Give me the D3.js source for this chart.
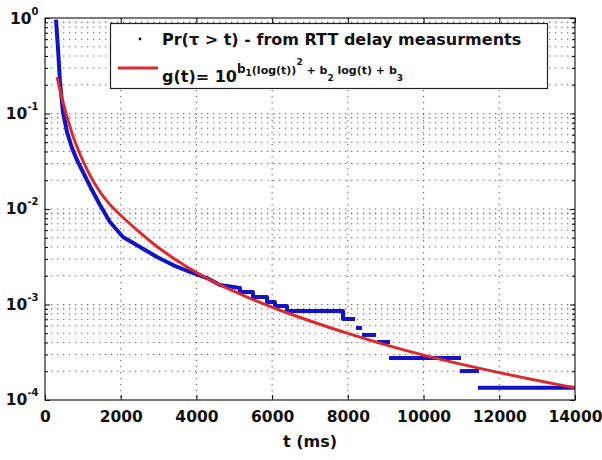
<!DOCTYPE html>
<html><head><meta charset="utf-8">
<script src="https://cdn.jsdelivr.net/npm/d3@7"></script>
<style>
body{margin:0;background:#fff}
text{font-family:"DejaVu Sans",sans-serif;font-weight:bold;fill:#111}
</style>
</head><body><svg id="c" width="602" height="460"></svg>
<script>
// ---- data ----
const xTicks = [0, 2000, 4000, 6000, 8000, 10000, 12000, 14000];
const yExps = [0, -1, -2, -3, -4];
// measured survival function (continuous part)
const measT = [290, 343, 396, 475, 581, 713, 845, 977, 1109, 1241, 1453, 1717, 2060, 2509, 2958, 3381, 3830, 4279, 4623,
  5151, 5151, 5494, 5494, 5864, 5864, 6075, 6075, 6392, 6392, 7872, 7872, 8189];
const measP = [0.96, 0.485, 0.214, 0.1037, 0.0640, 0.0435, 0.0326, 0.0256, 0.0201, 0.0158, 0.0110, 0.00731, 0.00509, 0.0040, 0.00314, 0.00259, 0.00219, 0.00189, 0.00160,
  0.00149, 0.00135, 0.00135, 0.00120, 0.00120, 0.00106, 0.00106, 0.000964, 0.000964, 0.000855, 0.000855, 0.000705, 0.000705];
// measured tail plateaus
const stepT0 = [8215, 8374, 8770, 9087, 10962, 11438];
const stepT1 = [8374, 8743, 9113, 10989, 11464, 14000];
const stepP  = [0.000568, 0.000480, 0.000405, 0.000275, 0.000201, 0.000134];
// fitted curve g(t)
const fitT = [320, 450, 580, 790, 1060, 1320, 1640, 2010, 2510, 2960, 3380, 4000, 4700, 5340, 6000, 8000, 10000, 12000, 14000];
const fitP = [0.241, 0.142, 0.0919, 0.0491, 0.0282, 0.0178, 0.0118, 0.00845, 0.00561, 0.0040, 0.00307, 0.00214, 0.00153, 0.0012, 0.000919, 0.00049, 0.000289, 0.000192, 0.000134];
const legend1 = "Pr(τ > t) - from RTT delay measurments";
const xLabel = "t (ms)";

// ---- layout ----
const L = 45, R = 575, T = 18, B = 400;
const svg = d3.select("#c");
const x = d3.scaleLinear().domain([0, 14000]).range([L, R]);
const y = d3.scaleLog().domain([1e-4, 1]).range([B, T]);

const majorY = yExps.map(e => Math.pow(10, e));
const minorY = [];
for (let e = -4; e < 0; e++) for (let k = 2; k <= 9; k++) minorY.push(k * Math.pow(10, e));

svg.append("rect").attr("x", L).attr("y", T).attr("width", R - L).attr("height", B - T).attr("fill", "#fff");

// grid
const grid = svg.append("g").attr("stroke", "#666").attr("stroke-width", 1.1).attr("stroke-dasharray", "1.3,4.7");
grid.selectAll(".gy").data(majorY.slice(1, -1).concat(minorY)).join("line")
  .attr("x1", L).attr("x2", R).attr("y1", d => y(d)).attr("y2", d => y(d));
grid.selectAll(".gx").data(xTicks.slice(1, -1)).join("line")
  .attr("y1", T).attr("y2", B).attr("x1", d => x(d)).attr("x2", d => x(d));

// clip
svg.append("clipPath").attr("id", "clip").append("rect").attr("x", L).attr("y", T).attr("width", R - L).attr("height", B - T);
const plot = svg.append("g").attr("clip-path", "url(#clip)");

const blue = "#1212c8", red = "#dc2a2a";
const meas = measT.map((t, i) => [t, measP[i]]);
const lineLin = d3.line().x(d => x(d[0])).y(d => y(d[1]));
plot.append("path").datum(meas).attr("d", lineLin).attr("fill", "none")
  .attr("stroke", blue).attr("stroke-width", 4).attr("stroke-linejoin", "round");
plot.selectAll(".st").data(stepP).join("line")
  .attr("x1", (d, i) => x(stepT0[i])).attr("x2", (d, i) => x(stepT1[i]))
  .attr("y1", d => y(d)).attr("y2", d => y(d))
  .attr("stroke", blue).attr("stroke-width", 4);

const fit = fitT.map((t, i) => [t, fitP[i]]);
plot.append("path").datum(fit).attr("d", d3.line().x(d => x(d[0])).y(d => y(d[1])).curve(d3.curveBasis))
  .attr("fill", "none").attr("stroke", red).attr("stroke-width", 3);

// axes (inward ticks, box)
const fmtNone = () => "";
svg.append("g").attr("transform", `translate(0,${B})`)
  .call(d3.axisBottom(x).tickValues(xTicks).tickSize(-5).tickPadding(11).tickFormat(d3.format("d")))
  .call(g => g.select(".domain").remove())
  .call(g => g.selectAll("text").attr("font-size", 15.5).attr("font-family", null));
svg.append("g").attr("transform", `translate(0,${T})`)
  .call(d3.axisTop(x).tickValues(xTicks).tickSize(-5).tickFormat(fmtNone))
  .call(g => g.select(".domain").remove());
svg.append("g").attr("transform", `translate(${L},0)`)
  .call(d3.axisLeft(y).tickValues(majorY).tickSize(-5).tickFormat(fmtNone))
  .call(g => g.select(".domain").remove());
svg.append("g").attr("transform", `translate(${L},0)`)
  .call(d3.axisLeft(y).tickValues(minorY).tickSize(-3).tickFormat(fmtNone))
  .call(g => g.select(".domain").remove());
svg.append("g").attr("transform", `translate(${R},0)`)
  .call(d3.axisRight(y).tickValues(majorY).tickSize(-5).tickFormat(fmtNone))
  .call(g => g.select(".domain").remove());
svg.append("g").attr("transform", `translate(${R},0)`)
  .call(d3.axisRight(y).tickValues(minorY).tickSize(-3).tickFormat(fmtNone))
  .call(g => g.select(".domain").remove());
svg.append("rect").attr("x", L).attr("y", T).attr("width", R - L).attr("height", B - T)
  .attr("fill", "none").attr("stroke", "#222").attr("stroke-width", 1.2);

// y tick labels 10^e
yExps.forEach(e => {
  const yy = y(Math.pow(10, e)) + (e === 0 ? 6 : 5);
  const t = svg.append("text").attr("x", 38.5).attr("y", yy).attr("text-anchor", "end").attr("font-size", 15.5);
  t.append("tspan").text("10");
  t.append("tspan").attr("dy", -9).attr("font-size", 10).text(String(e));
});

// x label
svg.append("text").attr("x", (L + R) / 2).attr("y", 447).attr("text-anchor", "middle").attr("font-size", 16).text(xLabel);

// legend
const lg = svg.append("g");
lg.append("rect").attr("x", 110.5).attr("y", 23.5).attr("width", 437).attr("height", 65)
  .attr("fill", "#fff").attr("stroke", "#222").attr("stroke-width", 1.2);
lg.append("circle").attr("cx", 140).attr("cy", 39).attr("r", 1.4).attr("fill", "#111");
lg.append("text").attr("x", 162).attr("y", 45).attr("font-size", 16).text(legend1);
lg.append("line").attr("x1", 118).attr("x2", 158).attr("y1", 68).attr("y2", 68).attr("stroke", red).attr("stroke-width", 3);
const g2 = lg.append("text").attr("x", 162).attr("y", 82).attr("font-size", 16);
g2.append("tspan").text("g(t)= 10");
const parts = [
  ["b", 12, -9], ["1", 9, 3], ["(log(t))", 11, -2], ["2", 9, -9], [" + b", 11, 9],
  ["2", 9, 7], [" log(t) + b", 11, -7], ["3", 9, 7]
];
parts.forEach(p => g2.append("tspan").attr("font-size", p[1]).attr("dy", p[2]).text(p[0]));
</script>
</body></html>
